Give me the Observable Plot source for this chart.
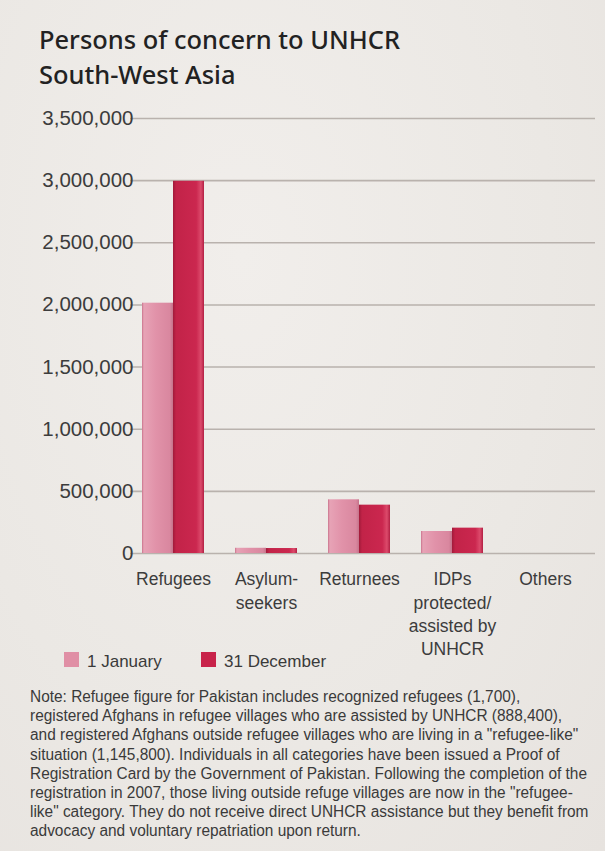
<!DOCTYPE html>
<html>
<head>
<meta charset="utf-8">
<script src="https://cdn.jsdelivr.net/npm/d3@7"></script>
<script src="https://cdn.jsdelivr.net/npm/@observablehq/plot@0.6"></script>
<style>
  html, body { margin: 0; padding: 0; background: #edeae6; }
  #wrap { position: relative; width: 605px; height: 851px; overflow: hidden;
    background: radial-gradient(ellipse at 40% 30%, #f1eeeb 0%, #ebe8e4 60%, #e7e3df 100%); }
  #grid, #chart { position: absolute; left: 0; top: 0; }
  .title { position: absolute; left: 39px; font-family: "Noto Sans", sans-serif; font-weight: 500;
    font-size: 25px; line-height: 1; color: #222; white-space: nowrap; transform-origin: 0 0; }
  .legend-item { position: absolute; font-family: "Liberation Sans", Arial, sans-serif; font-size: 17px;
    color: #3a3a3a; white-space: nowrap; line-height: 1; }
  .swatch { position: absolute; width: 15px; height: 15px; }
  .note { position: absolute; left: 30px; font-family: "Liberation Sans", Arial, sans-serif; font-size: 16px;
    line-height: 1; color: #3a3a3a; white-space: nowrap; transform-origin: 0 0; }
</style>
</head>
<body>
<div id="wrap"></div>
<script>
// ---- data ----
const titleLines = ["Persons of concern to UNHCR", "South-West Asia"];
const categories = ["Refugees", "Asylum-seekers", "Returnees", "IDPs protected/assisted by UNHCR", "Others"];
const tickLabels = ["Refugees", "Asylum-\nseekers", "Returnees", "IDPs\nprotected/\nassisted by\nUNHCR", "Others"];
const series = ["1 January", "31 December"];
const janValues = [2014000, 42000, 432000, 177000, 0];
const decValues = [2995000, 40000, 389000, 204000, 0];
const yTicks = [0, 500000, 1000000, 1500000, 2000000, 2500000, 3000000, 3500000];
const noteLines = [
  "Note: Refugee figure for Pakistan includes recognized refugees (1,700),",
  "registered Afghans in refugee villages who are assisted by UNHCR (888,400),",
  "and registered Afghans outside refugee villages who are living in a \"refugee-like\"",
  "situation (1,145,800). Individuals in all categories have been issued a Proof of",
  "Registration Card by the Government of Pakistan. Following the completion of the",
  "registration in 2007, those living outside refuge villages are now in the \"refugee-",
  "like\" category. They do not receive direct UNHCR assistance but they benefit from",
  "advocacy and voluntary repatriation upon return."
];

const data = categories.flatMap((c, i) => [
  {category: c, series: series[0], value: janValues[i]},
  {category: c, series: series[1], value: decValues[i]}
]);

const wrap = document.getElementById("wrap");

const W = 605, H = 680, MT = 118, MB = 127;

// ---- grid layer (continuous across categories) ----
const grid = Plot.plot({
  width: W, height: H, marginTop: MT, marginBottom: MB, marginLeft: 130, marginRight: 10,
  style: {background: "transparent"},
  y: {domain: [0, 3500000], axis: null},
  marks: [Plot.ruleY(yTicks, {stroke: "#b9b2ad", strokeWidth: 1.6})]
});
grid.id = "grid";
wrap.appendChild(grid);

// ---- chart ----
const chart = Plot.plot({
  width: W,
  height: H,
  marginTop: MT,
  marginBottom: MB,
  marginLeft: 127,
  marginRight: 13,
  style: {background: "transparent", fontFamily: "'Liberation Sans', Arial, sans-serif", color: "#3a3a3a", overflow: "visible"},
  fx: {domain: categories, paddingInner: 0.332, paddingOuter: 0.1525, label: null},
  x: {domain: series, padding: 0, axis: null},
  y: {domain: [0, 3500000], label: null, axis: null},
  color: {domain: series, range: ["url(#gJan)", "url(#gDec)"]},
  marks: [
    Plot.barY(data, {fx: "category", x: "series", y: "value", fill: "series"}),
    Plot.axisY(yTicks, {tickSize: 0, tickPadding: 9, tickFormat: d3.format(","), label: null, fontSize: 20.5, fill: "#3c3c3c"}),
    Plot.axisFx({anchor: "bottom", tickSize: 0, tickPadding: 15, label: null, fontSize: 17.5, lineHeight: 1.34, fill: "#3c3c3c",
      tickFormat: d => tickLabels[categories.indexOf(d)]})
  ]
});
chart.id = "chart";
wrap.appendChild(chart);

// gradients for the bevelled bars
const svg = d3.select(chart);
const defs = svg.insert("defs", ":first-child");
function grad(id, stops) {
  const g = defs.append("linearGradient").attr("id", id).attr("x1", "0").attr("x2", "1").attr("y1", "0").attr("y2", "0");
  stops.forEach(([o, c]) => g.append("stop").attr("offset", o).attr("stop-color", c));
}
grad("gJan", [["0", "#c9738c"], ["0.06", "#e7a3b6"], ["0.45", "#e192a9"], ["0.9", "#d9879f"], ["1", "#c5738b"]]);
grad("gDec", [["0", "#a11a3a"], ["0.1", "#c22348"], ["0.75", "#cb274f"], ["0.9", "#dc4a6b"], ["1", "#b21f43"]]);

// ---- title ----
const titleTops = [27, 62];
titleLines.forEach((t, i) => {
  const d = document.createElement("div");
  d.className = "title";
  d.textContent = t;
  d.style.top = titleTops[i] + "px";
  wrap.appendChild(d);
});
const t0 = wrap.querySelector(".title");
const tScale = 361 / t0.getBoundingClientRect().width;
wrap.querySelectorAll(".title").forEach(el => el.style.transform = `scale(${tScale}, 1)`);

// ---- legend ----
const legendColors = ["#e08fa5", "#c8234a"];
const legendX = [64, 201];
series.forEach((s, i) => {
  const sw = document.createElement("div");
  sw.className = "swatch";
  sw.style.left = legendX[i] + "px";
  sw.style.top = "652px";
  sw.style.background = legendColors[i];
  wrap.appendChild(sw);
  const lb = document.createElement("div");
  lb.className = "legend-item";
  lb.textContent = s;
  lb.style.left = (legendX[i] + 23) + "px";
  lb.style.top = "653px";
  wrap.appendChild(lb);
});

// ---- note ----
const noteEls = noteLines.map((t, i) => {
  const d = document.createElement("div");
  d.className = "note";
  d.textContent = t;
  d.style.top = (689 + i * 19.2) + "px";
  wrap.appendChild(d);
  return d;
});
const nScale = 557 / noteEls[4].getBoundingClientRect().width;
noteEls.forEach(el => el.style.transform = `scale(${nScale}, 1)`);
</script>
</body>
</html>
